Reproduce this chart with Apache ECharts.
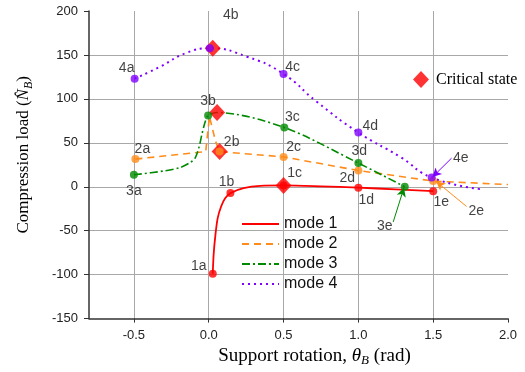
<!DOCTYPE html>
<html>
<head>
<meta charset="utf-8">
<script src="https://cdn.jsdelivr.net/npm/echarts@6/dist/echarts.min.js"></script>
<style>
  html, body { margin: 0; padding: 0; background: #fff; }
  #chart { width: 525px; height: 372px; }
</style>
</head>
<body>
<div id="chart"></div>
<script>
// Compression load versus support rotation for buckling modes 1-4

// Curve traces [theta_B, N_B] for each mode
const mode1Curve = [[0.027,-99],[0.033,-77],[0.045,-54.5],[0.06,-35.6],[0.083,-22.4],[0.111,-12.9],[0.145,-7.2],[0.233,-1.5],[0.345,1.1],[0.5,1.5],[0.75,0.5],[1.0,-1],[1.25,-3],[1.5,-5]];
const mode2Curve = [[-0.49,31.5],[-0.02,40],[0.005,80],[0.045,52],[0.073,40],[0.5,34],[1.0,18.5],[1.5,6.5],[2.0,2.5]];
const mode3Curve = [[-0.5,13.6],[-0.3,18],[-0.19,22],[-0.12,28],[-0.09,33],[-0.065,45],[-0.045,60],[-0.025,73],[-0.004,81],[0.056,84.5],[0.505,67.5],[1.0,27],[1.31,0]];
const mode4Curve = [[-0.495,123],[-0.32,137],[-0.155,152],[0.007,157.6],[0.256,148],[0.5,128.4],[0.72,97],[1.0,61.7],[1.28,34],[1.49,10.5],[1.83,-3]];

// Labelled states a-e on each mode
const mode1Points = [[0.027,-99],[0.145,-7.2],[0.5,1.5],[1.0,-1],[1.5,-5]];
const mode2Points = [[-0.49,31.5],[0.073,40],[0.5,34],[1.0,18.5],[1.5,6.5]];
const mode3Points = [[-0.5,13.6],[-0.004,81],[0.505,67.5],[1.0,27],[1.31,0]];
const mode4Points = [[-0.495,123],[0.007,157.6],[0.5,128.4],[1.0,61.7],[1.49,10.5]];
const mode1Names = ['1a','1b','1c','1d','1e'];
const mode2Names = ['2a','2b','2c','2d','2e'];
const mode3Names = ['3a','3b','3c','3d','3e'];
const mode4Names = ['4a','4b','4c','4d','4e'];

// Critical states (one per mode)
const criticalPoints = [[0.5,1.5],[0.073,40],[0.056,84.5],[0.027,157.6]];

// Leader arrows [from, to] pointing at crowded labels
const arrow3e = [[1.233,-40],[1.305,-1]];
const arrow4e = [[1.623,32.6],[1.495,11]];
const arrow2e = [[1.723,-22.4],[1.52,6]];

// Axis ranges / tick labels
const xMin = -0.8, xMax = 2.0;
const yMin = -150, yMax = 200, yStep = 50;

// ---- styling ----
const RED = '#ff0000', ORANGE = '#ff8c1a', GREEN = '#008a00', PURPLE = '#8000ff';
const SANS = 'Liberation Sans, Arial, sans-serif';
const SERIF = 'Liberation Serif, Times New Roman, serif';

// pixel offsets of each state label from its marker
const labelOffsets = {
  '1a':[-14,-8], '1b':[-4,-11], '1c':[11,-12], '1d':[8,12], '1e':[8,11],
  '2a':[7,-10], '2b':[12,-9], '2c':[10,-10], '2d':[-11,8], '2e':[43,30],
  '3a':[0,16], '3b':[0,-14], '3c':[8,-10], '3d':[1,-12], '3e':[-20,39],
  '4a':[-8,-11], '4b':[21,-33], '4c':[9,-7], '4d':[12,-6], '4e':[29,-19]
};

function curveSeries(name, data, color, lineStyle, smooth) {
  return {
    name: name, type: 'line', data: data, symbol: 'none', smooth: smooth,
    color: color, z: 2,
    lineStyle: Object.assign({ color: color, width: 1.6 }, lineStyle)
  };
}

function pointSeries(points, names, color) {
  return {
    type: 'scatter', symbol: 'circle', symbolSize: 8, z: 5,
    itemStyle: { color: color },
    data: points.map(function (p, i) {
      return {
        value: p, name: names[i],
        label: {
          show: true, formatter: names[i], position: 'inside',
          offset: labelOffsets[names[i]],
          color: '#111', fontFamily: SANS, fontSize: 14
        }
      };
    })
  };
}

function arrowLine(arrow, color) {
  return {
    type: 'line', data: [], symbol: 'none', silent: true, z: 6,
    markLine: {
      silent: true, animation: false,
      symbol: ['none', 'arrow'], symbolSize: [7, 9],
      label: { show: false },
      lineStyle: { color: color, width: 1, type: 'solid' },
      data: [[{ coord: arrow[0] }, { coord: arrow[1] }]]
    }
  };
}

const chart = echarts.init(document.getElementById('chart'), null, { renderer: 'canvas' });

chart.setOption({
  animation: false,
  backgroundColor: '#fff',
  grid: { left: 89, right: 17, top: 11, bottom: 53, containLabel: false },
  xAxis: {
    type: 'value', min: xMin, max: xMax,
    name: '{t|Support rotation, }{i|θ}{s|B}{t| (rad)}',
    nameLocation: 'middle', nameGap: 25,
    nameTextStyle: {
      padding: [0, 0, 0, 32],
      rich: {
        t: { fontFamily: SERIF, fontSize: 19, color: '#000', lineHeight: 22 },
        i: { fontFamily: SERIF, fontSize: 19, fontStyle: 'italic', color: '#000', lineHeight: 22 },
        s: { fontFamily: SERIF, fontSize: 13, fontStyle: 'italic', color: '#000', lineHeight: 12, verticalAlign: 'bottom' }
      }
    },
    axisLine: { show: true, onZero: false, lineStyle: { color: '#333', width: 1.5 } },
    axisTick: { show: true, inside: false, length: 4, lineStyle: { color: '#333' } },
    axisLabel: {
      showMinLabel: false, margin: 10, color: '#222', fontFamily: SANS, fontSize: 13,
      formatter: function (v) { return v.toFixed(1); }
    },
    splitLine: { show: true, showMinLine: false, showMaxLine: false, lineStyle: { color: '#a8a8a8', width: 1 } }
  },
  yAxis: {
    type: 'value', min: yMin, max: yMax, interval: yStep,
    name: '{t|Compression load (}{i|N\u0302}{s|B}{t|)}',
    nameLocation: 'middle', nameGap: 54,
    nameTextStyle: {
      padding: [0, 0, 0, 20],
      rich: {
        t: { fontFamily: SERIF, fontSize: 17, color: '#000', lineHeight: 22 },
        i: { fontFamily: SERIF, fontSize: 17, fontStyle: 'italic', color: '#000', lineHeight: 22 },
        s: { fontFamily: SERIF, fontSize: 12, fontStyle: 'italic', color: '#000', lineHeight: 12, verticalAlign: 'bottom' }
      }
    },
    axisLine: { show: true, onZero: false, lineStyle: { color: '#333', width: 1.5 } },
    axisTick: { show: true, inside: false, length: 5, lineStyle: { color: '#333' } },
    axisLabel: { margin: 11, color: '#222', fontFamily: SANS, fontSize: 13 },
    splitLine: { show: true, showMinLine: false, showMaxLine: false, lineStyle: { color: '#a8a8a8', width: 1 } }
  },
  legend: [
    {
      data: ['mode 1', 'mode 2', 'mode 3', 'mode 4'],
      orient: 'vertical', left: 236, top: 211,
      itemWidth: 37, itemHeight: 14, itemGap: 4, selectedMode: false,
      itemStyle: { opacity: 0 },
      textStyle: { fontFamily: SANS, fontSize: 16, color: '#111', lineHeight: 16, padding: [0, 0, 0, 0] }
    },
    {
      data: [{ name: 'Critical state', icon: 'diamond' }],
      left: 408, top: 66, itemWidth: 16, itemHeight: 17, selectedMode: false,
      textStyle: { fontFamily: SERIF, fontSize: 16, color: '#000', padding: [0, 0, 0, 2] }
    }
  ],
  series: [
    curveSeries('mode 1', mode1Curve, RED, { type: 'solid', width: 1.8 }, 0.3),
    curveSeries('mode 2', mode2Curve, ORANGE, { type: [7, 5] }, false),
    curveSeries('mode 3', mode3Curve, GREEN, { type: [8, 3, 2, 3] }, 0.3),
    curveSeries('mode 4', mode4Curve, PURPLE, { type: [2, 4], width: 2 }, 0.5),
    {
      name: 'Critical state', type: 'scatter', symbol: 'diamond', symbolSize: [16, 17], z: 4,
      itemStyle: { color: RED }, data: criticalPoints
    },
    pointSeries(mode1Points, mode1Names, RED),
    pointSeries(mode2Points, mode2Names, ORANGE),
    pointSeries(mode3Points, mode3Names, GREEN),
    pointSeries(mode4Points, mode4Names, PURPLE),
    arrowLine(arrow3e, GREEN),
    arrowLine(arrow4e, PURPLE),
    arrowLine(arrow2e, ORANGE)
  ]
});
</script>
</body>
</html>
